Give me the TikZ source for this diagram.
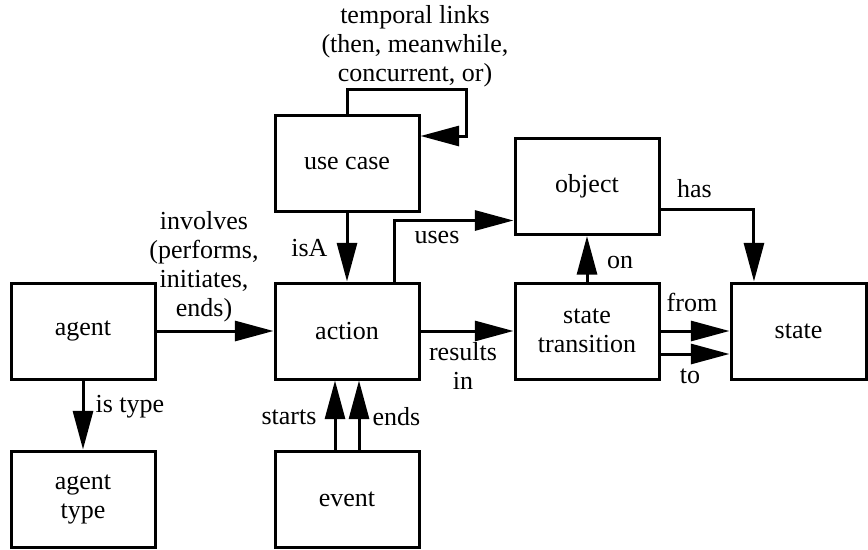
\documentclass[tikz,border=0pt]{standalone}
\usepackage{fontspec}
\setmainfont{Liberation Serif}
\usetikzlibrary{arrows.meta, calc}

\begin{document}
\begin{tikzpicture}[x=0.75pt, y=-0.75pt, every node/.style={font=\fontsize{19.5}{21.75}\selectfont}]
  % -----------------------------
  % STYLES
  % -----------------------------
  \tikzset{
    bx/.style={draw, line width=2.25pt, minimum width=108pt, minimum height=72pt, align=center, inner sep=0pt},
    bxn/.style={bx, minimum width=101.25pt}, % state box (narrower)
    arr/.style={line width=2.25pt, -{Triangle[length=29pt, width=15pt]}},
    lab/.style={inner sep=1pt, align=center},
  }

  \useasboundingbox (0,0) rectangle (868,550);

  % -----------------------------
  % BOXES
  % -----------------------------
  \node[bx]  (usecase) at (347,163.5) {use case};
  \node[bx]  (object)  at (587,186.5) {object};
  \node[bx]  (agent)   at (83,331)    {agent};
  \node[bx]  (action)  at (347,331)   {action};
  \node[bx]  (trans)   at (587,331)   {state\\transition};
  \node[bxn] (state)   at (798.5,331) {state};
  \node[bx]  (agtype)  at (83,499)    {agent\\type};
  \node[bx]  (event)   at (347,499)   {event};

  % -----------------------------
  % CONNECTORS
  % -----------------------------
  % temporal links (self loop on use case)
  \coordinate (loopin) at ($(usecase.north east)+(0,22)$);
  \draw[arr] (usecase.north) -- ++(0,-25) -- ++(119,0) |- (loopin);

  \draw[arr] (usecase) -- (action);
  \draw[arr] (agent) -- (action);
  \draw[arr] (agent) -- (agtype);
  \draw[arr] ([xshift=-9pt]event.north) -- ([xshift=-9pt]action.south);
  \draw[arr] ([xshift=9pt]event.north) -- ([xshift=9pt]action.south);
  \draw[arr] ([xshift=35.25pt]action.north) |- ([yshift=-25.5pt]object.west);
  \draw[arr] (action) -- (trans);
  \draw[arr] (trans) -- (object);
  \draw[arr] ([yshift=-16.9pt]object.east) -| ([xshift=-33.4pt]state.north);
  \draw[arr] (trans) -- (state);
  \draw[arr] ([yshift=-17.25pt]trans.east) -- ([yshift=-17.25pt]state.west);

  % -----------------------------
  % LABELS
  % -----------------------------
  \node[lab] (Ltemp) at (415,46.5) {temporal links\\(then, meanwhile,\\concurrent, or)};
  \node[lab, anchor=east] (LisA) at (329,248) {isA};
  \node[lab] (Linv) at (204,266.5) {involves\\(performs,\\initiates,\\ends)};
  \node[lab, anchor=west] (Ltype) at (94,407) {is type};
  \node[lab, anchor=east] (Lstarts) at (318,417) {starts};
  \node[lab, anchor=west] (Lends) at (371,417) {ends};
  \node[lab] (Luses) at (437,237) {uses};
  \node[lab] (Lres) at (463,366) {results\\in};
  \node[lab] (Lon) at (620,262) {on};
  \node[lab] (Lhas) at (694.5,188.5) {has};
  \node[lab] (Lfrom) at (692,302) {from};
  \node[lab] (Lto) at (690,376) {to};
\end{tikzpicture}
\end{document}
